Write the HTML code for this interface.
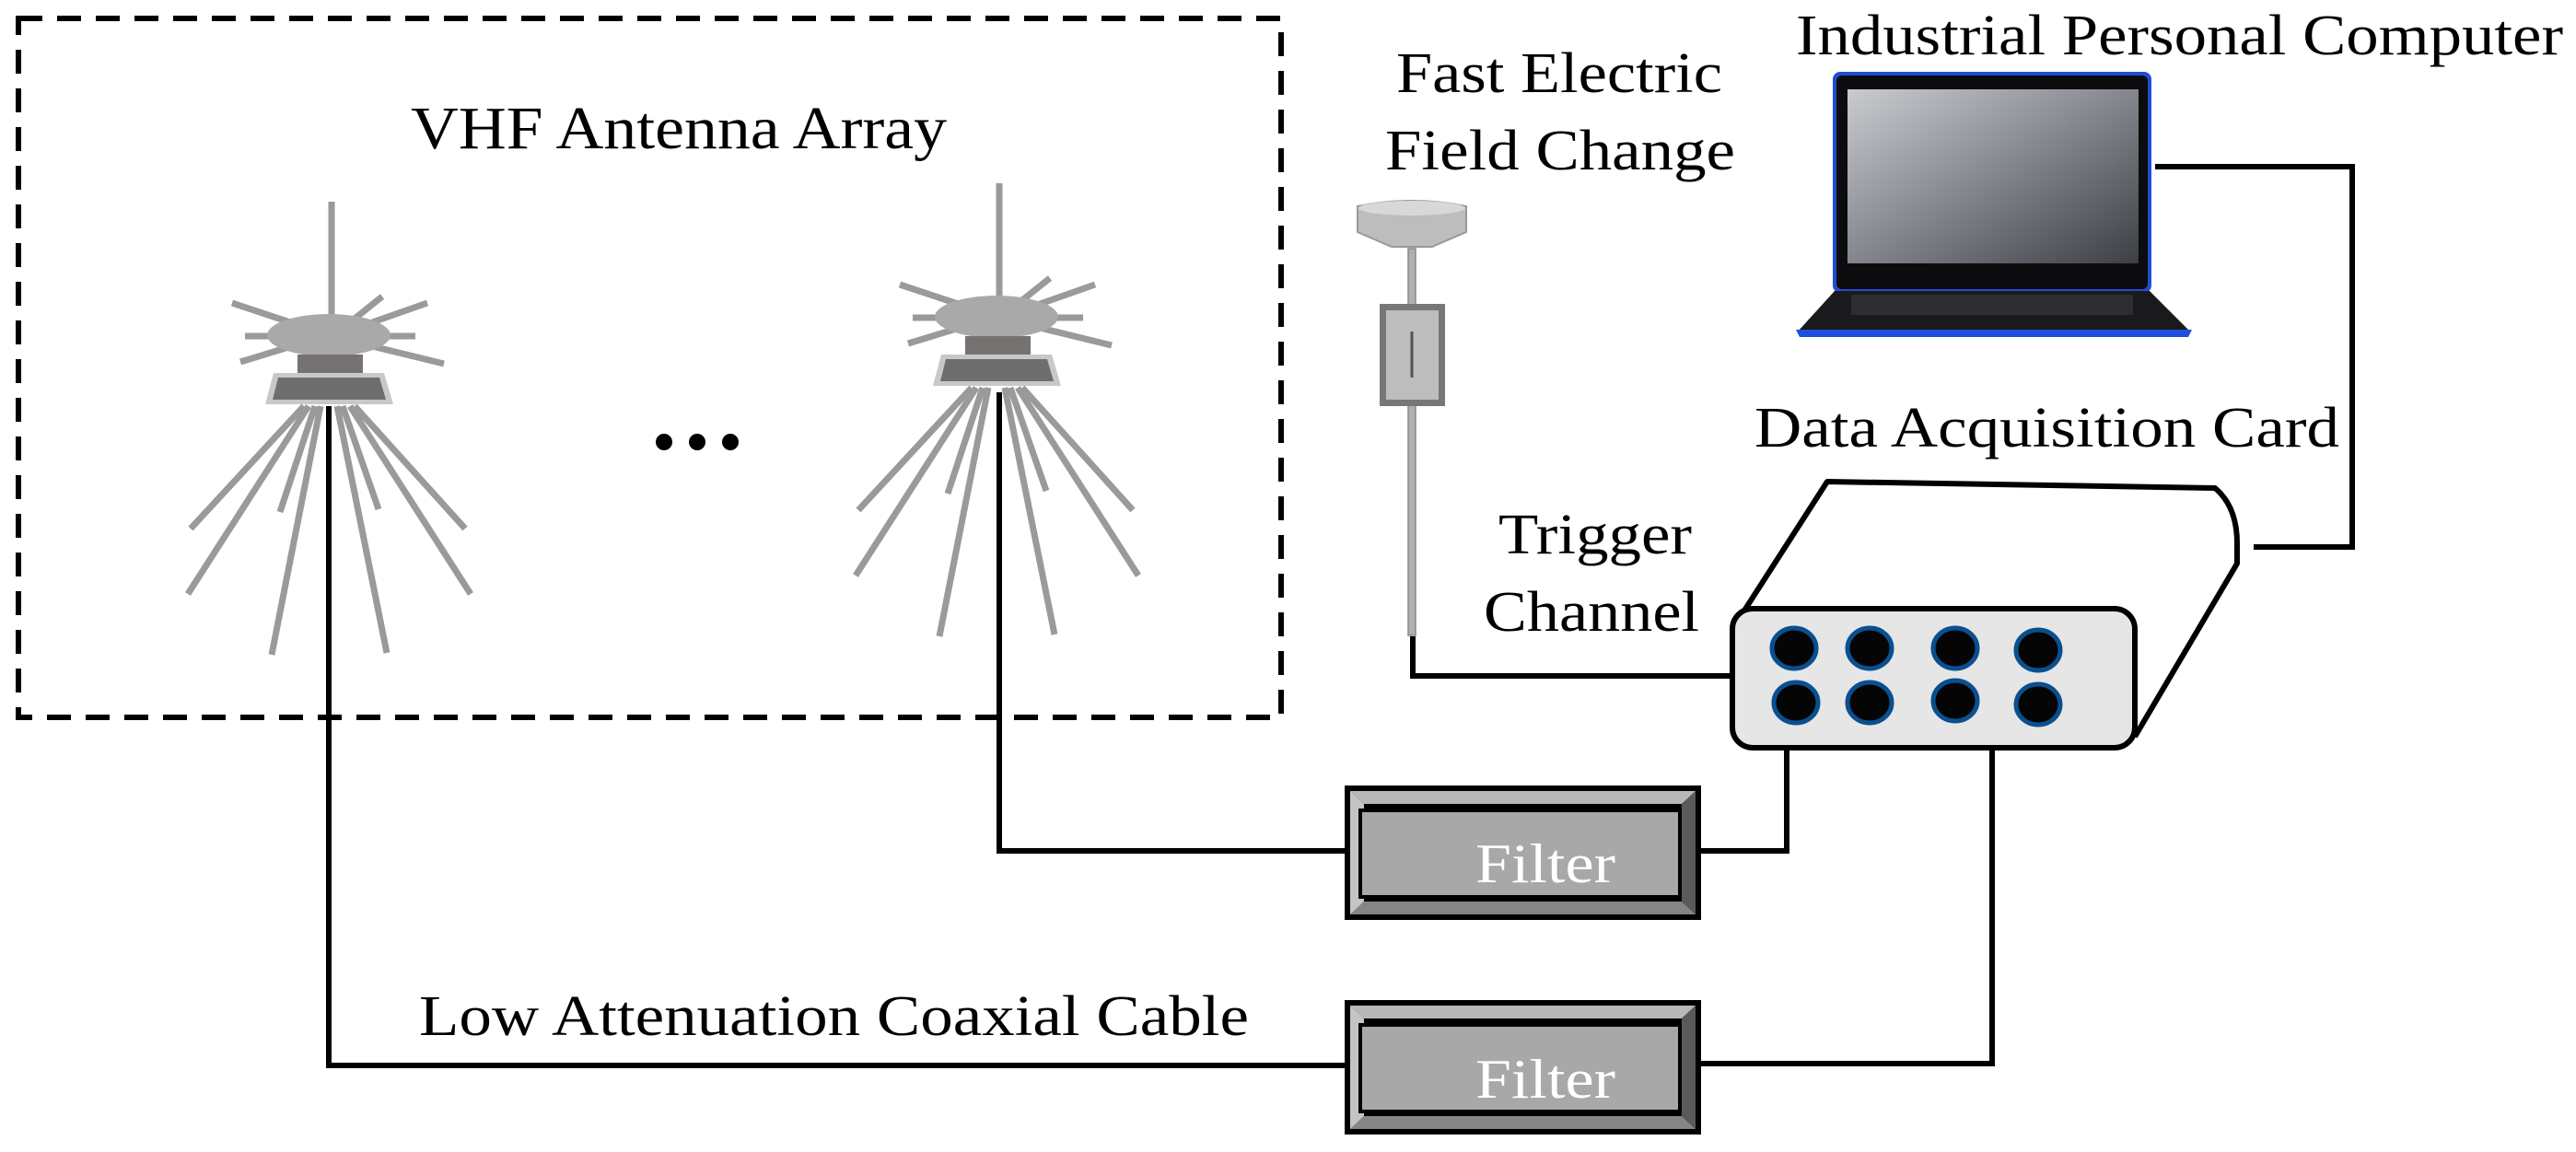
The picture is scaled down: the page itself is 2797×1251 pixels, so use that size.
<!DOCTYPE html>
<html><head><meta charset="utf-8"><style>
html,body{margin:0;padding:0;background:#fff;}
svg{display:block;}
text{font-family:"Liberation Serif","Times New Roman",serif;fill:#000;}
</style></head><body>
<svg width="2797" height="1251" viewBox="0 0 2797 1251" xmlns="http://www.w3.org/2000/svg">
<defs>
<linearGradient id="scr" x1="0" y1="0" x2="1" y2="1">
<stop offset="0" stop-color="#c9cbcf"/><stop offset="0.45" stop-color="#8a8e94"/><stop offset="1" stop-color="#3c3f44"/>
</linearGradient>
<g id="ant">
<g stroke="#9a9a9a" stroke-width="7" stroke-linecap="butt">
<line x1="360" y1="219" x2="360" y2="345"/>
<line x1="330" y1="355" x2="252" y2="329"/>
<line x1="390" y1="355" x2="464" y2="329"/>
<line x1="380" y1="350" x2="415" y2="322"/>
<line x1="300" y1="365" x2="266" y2="365"/>
<line x1="420" y1="365" x2="451" y2="365"/>
<line x1="320" y1="375" x2="261" y2="393"/>
<line x1="400" y1="375" x2="482" y2="395"/>
<line x1="330" y1="441" x2="207" y2="574"/>
<line x1="335" y1="441" x2="204" y2="645"/>
<line x1="348" y1="441" x2="295" y2="711"/>
<line x1="342" y1="441" x2="304" y2="556"/>
<line x1="366" y1="441" x2="420" y2="709"/>
<line x1="372" y1="441" x2="411" y2="553"/>
<line x1="385" y1="441" x2="505" y2="574"/>
<line x1="380" y1="441" x2="511" y2="645"/>
</g>
<ellipse cx="357" cy="364" rx="67" ry="23" fill="#a9a9a9"/>
<rect x="323" y="385" width="71" height="21" fill="#777272"/>
<polygon points="297,405 417,405 427,439 288,439" fill="#c8c8c8"/>
<polygon points="302,410 412,410 419,434 296,434" fill="#6e6e6e"/>
</g>
<g id="filt">
<rect x="0" y="0" width="387" height="146" fill="#000"/>
<polygon points="6,6 381,6 366,20 21,20" fill="#b8b8b8"/>
<polygon points="6,140 381,140 366,126 21,126" fill="#858585"/>
<polygon points="6,6 21,20 21,126 6,140" fill="#c4c4c4"/>
<polygon points="381,6 366,20 366,126 381,140" fill="#5a5a5a"/>
<rect x="15" y="25" width="351" height="98" fill="#000"/>
<rect x="19" y="29" width="343" height="90" fill="#a8a8a8"/>
</g>
</defs>

<rect x="20" y="20" width="1371" height="759" fill="none" stroke="#000" stroke-width="6" stroke-dasharray="26,16"/>
<text x="446" y="161" font-size="66" textLength="582" lengthAdjust="spacingAndGlyphs">VHF Antenna Array</text>

<g fill="none" stroke="#000" stroke-width="6">
<polyline points="357,441 357,1157 1460,1157"/>
<polyline points="1085,426 1085,924 1460,924"/>
<polyline points="1847,924 1940,924 1940,812"/>
<polyline points="1847,1155 2163,1155 2163,812"/>
<polyline points="1534,691 1534,734 1881,734"/>
<polyline points="2447,594 2554,594 2554,181 2340,181"/>
</g>

<use href="#ant"/>
<use href="#ant" transform="translate(725,-20)"/>
<circle cx="721" cy="480" r="9"/><circle cx="757" cy="480" r="9"/><circle cx="793" cy="480" r="9"/>

<rect x="1529" y="270" width="8" height="420" fill="#b0b0b0" stroke="#888" stroke-width="1.5"/>
<path d="M1474,224 Q1533,212 1592,224 L1592,252 L1555,268 L1511,268 L1474,252 Z" fill="#bdbdbd" stroke="#999" stroke-width="2"/>
<ellipse cx="1533" cy="226" rx="58" ry="8" fill="#d8d8d8"/>
<rect x="1498" y="330" width="71" height="111" fill="#777"/>
<rect x="1505" y="337" width="57" height="97" fill="#bdbdbd"/>
<line x1="1533" y1="360" x2="1533" y2="410" stroke="#555" stroke-width="3"/>

<rect x="1990" y="78" width="346" height="240" rx="8" fill="#1f4fd0"/>
<rect x="1994" y="82" width="338" height="232" rx="6" fill="#0c0c0e"/>
<rect x="2006" y="97" width="316" height="189" fill="url(#scr)"/>
<polygon points="1992,316 2334,316 2378,360 1952,360" fill="#1a1a1c"/>
<rect x="2010" y="320" width="306" height="22" fill="#2e2e32"/>
<polygon points="1950,358 2380,358 2376,366 1954,366" fill="#2050e0"/>
<text x="1950" y="59" font-size="62" textLength="833" lengthAdjust="spacingAndGlyphs">Industrial Personal Computer</text>

<text x="1516" y="100" font-size="62" textLength="354" lengthAdjust="spacingAndGlyphs">Fast Electric</text>
<text x="1504" y="184" font-size="62" textLength="380" lengthAdjust="spacingAndGlyphs">Field Change</text>

<text x="1905" y="485" font-size="62" textLength="635" lengthAdjust="spacingAndGlyphs">Data Acquisition Card</text>
<text x="1627" y="601" font-size="62" textLength="210" lengthAdjust="spacingAndGlyphs">Trigger</text>
<text x="1611" y="685" font-size="62" textLength="234" lengthAdjust="spacingAndGlyphs">Channel</text>
<path d="M1894,663 L1984,523 L2405,530 Q2429,550 2429,590 L2429,612 L2318,800" fill="#fff" stroke="#000" stroke-width="6" stroke-linejoin="round"/>
<rect x="1881" y="661" width="437" height="151" rx="22" fill="#e6e6e6" stroke="#000" stroke-width="6"/>
<g fill="#050505" stroke="#0a4f8f" stroke-width="5">
<ellipse cx="1948" cy="704" rx="24" ry="22"/><ellipse cx="2030" cy="704" rx="24" ry="22"/>
<ellipse cx="2123" cy="704" rx="24" ry="22"/><ellipse cx="2213" cy="706" rx="24" ry="22"/>
<ellipse cx="1950" cy="763" rx="24" ry="22"/><ellipse cx="2030" cy="763" rx="24" ry="22"/>
<ellipse cx="2123" cy="761" rx="24" ry="22"/><ellipse cx="2213" cy="765" rx="24" ry="22"/>
</g>

<use href="#filt" transform="translate(1460,853)"/>
<use href="#filt" transform="translate(1460,1086)"/>
<text x="1602" y="958" font-size="60" style="fill:#fff" textLength="152" lengthAdjust="spacingAndGlyphs">Filter</text>
<text x="1602" y="1192" font-size="60" style="fill:#fff" textLength="152" lengthAdjust="spacingAndGlyphs">Filter</text>

<text x="455" y="1124" font-size="62" textLength="901" lengthAdjust="spacingAndGlyphs">Low Attenuation Coaxial Cable</text>
</svg>
</body></html>
